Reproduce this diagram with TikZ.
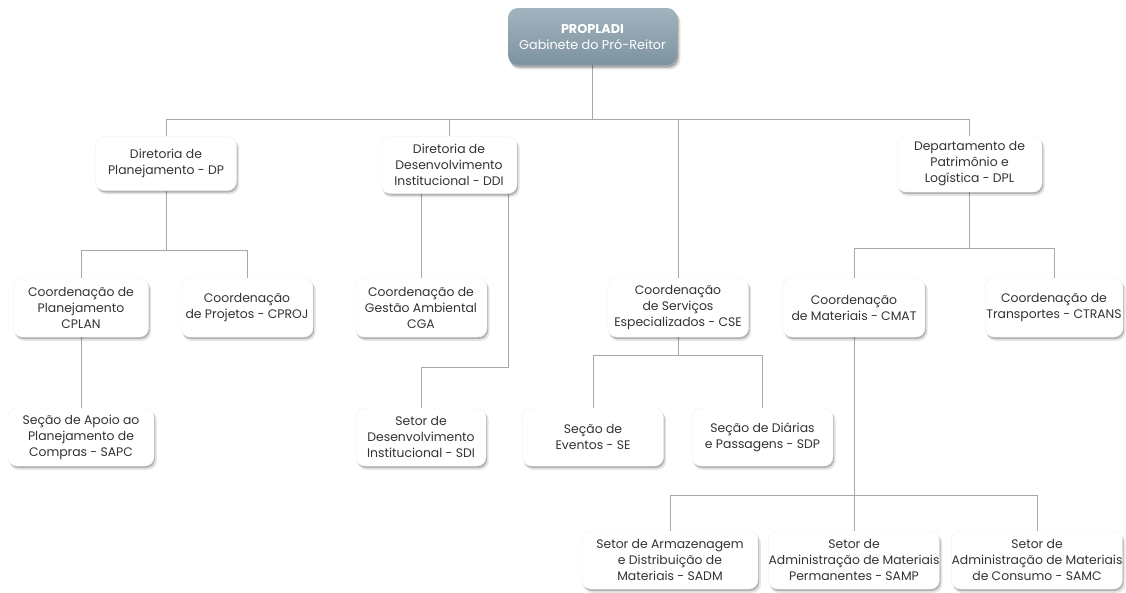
\documentclass[tikz,border=0pt]{standalone}
\usepackage{fontspec}
\setmainfont{Poppins}
\usetikzlibrary{shadows,backgrounds}
\definecolor{linegray}{HTML}{A8A8A8}
\definecolor{txt}{HTML}{333333}
\definecolor{topA}{HTML}{A2B4BF}
\definecolor{topB}{HTML}{7D92A0}
\tikzset{
  box/.style={rectangle, rounded corners=9pt, fill=white, draw=black!6, text=txt,
    align=center, font=\fontsize{12.4}{16}\selectfont, inner sep=0pt,
    general shadow={shadow xshift=2pt, shadow yshift=-3.5pt, shadow scale=1.01, fill=black, opacity=.10},
    drop shadow={shadow xshift=1.2pt, shadow yshift=-2pt, fill=black, opacity=.22}},
  topbox/.style={rectangle, rounded corners=10pt, top color=topA, bottom color=topB,
    draw=none, text=white, align=center, font=\fontsize{12.8}{16}\selectfont, inner sep=0pt,
    general shadow={shadow xshift=2.5pt, shadow yshift=-4pt, shadow scale=1.01, fill=black, opacity=.12},
    drop shadow={shadow xshift=1.5pt, shadow yshift=-2.5pt, fill=black, opacity=.25}},
  conn/.style={draw=linegray, line width=1pt},
}
\begin{document}
\begin{tikzpicture}[x=1pt,y=-1pt]
\useasboundingbox (0,0) rectangle (1126,592);
% nodes
\node[topbox, minimum width=169pt, minimum height=57pt] (PROP) at (592.5,36.5) {{\bfseries PROPLADI}\\Gabinete do Pró-Reitor};
\node[box, minimum width=141pt, minimum height=54pt] (DP) at (166,163.5) {Diretoria de\\Planejamento - DP};
\node[box, minimum width=136pt, minimum height=57pt] (DDI) at (449,165) {Diretoria de\\Desenvolvimento\\Institucional - DDI};
\node[box, minimum width=145pt, minimum height=56pt] (DPL) at (969.5,164) {Departamento de\\Patrimônio e\\Logística - DPL};
\node[box, minimum width=135pt, minimum height=59pt] (CPLAN) at (81,307.5) {Coordenação de\\Planejamento\\CPLAN};
\node[box, minimum width=132pt, minimum height=59pt] (CPROJ) at (247,307.5) {Coordenação\\de Projetos - CPROJ};
\node[box, minimum width=132pt, minimum height=59pt] (CGA) at (421,307.5) {Coordenação de\\Gestão Ambiental\\CGA};
\node[box, minimum width=141pt, minimum height=59pt] (CSE) at (678,307.5) {Coordenação\\de Serviços\\Especializados - CSE};
\node[box, minimum width=142pt, minimum height=59pt] (CMAT) at (854,307.5) {Coordenação\\de Materiais - CMAT};
\node[box, minimum width=138pt, minimum height=59pt] (CTRANS) at (1054,307.5) {Coordenação de\\Transportes - CTRANS};
\node[box, minimum width=146pt, minimum height=58pt] (SAPC) at (81,437) {Seção de Apoio ao\\Planejamento de\\Compras - SAPC};
\node[box, minimum width=130pt, minimum height=58pt] (SDI) at (421,437) {Setor de\\Desenvolvimento\\Institucional - SDI};
\node[box, minimum width=141pt, minimum height=58pt] (SE) at (593,437) {Seção de\\Eventos - SE};
\node[box, minimum width=141pt, minimum height=58pt] (SDP) at (762.5,437) {Seção de Diárias\\e Passagens - SDP};
\node[box, minimum width=176pt, minimum height=58pt] (SADM) at (670,560) {Setor de Armazenagem\\e Distribuição de\\Materiais - SADM};
\node[box, minimum width=168pt, minimum height=58pt] (SAMP) at (854,560) {Setor de\\Administração de Materiais\\Permanentes - SAMP};
\node[box, minimum width=168pt, minimum height=58pt] (SAMC) at (1037,560) {Setor de\\Administração de Materiais\\de Consumo - SAMC};
% connectors
\begin{pgfonlayer}{background}
\coordinate (b1) at (0,119);
\coordinate (b2) at (0,250);
\coordinate (b3) at (0,248);
\coordinate (b4) at (0,355);
\coordinate (b5) at (0,495);
\coordinate (k) at (508,367);
\draw[conn] (PROP.south) -- (PROP.south |- b1);
\draw[conn] (DP.north) -- (DP.north |- b1) -- (DPL.north |- b1) -- (DPL.north);
\draw[conn] (DDI.north) -- (DDI.north |- b1);
\draw[conn] (CSE.north) -- (CSE.north |- b1);
\draw[conn] (DP.south) -- (DP.south |- b2);
\draw[conn] (CPLAN.north) -- (CPLAN.north |- b2) -- (CPROJ.north |- b2) -- (CPROJ.north);
\draw[conn] (CPLAN.south) -- (SAPC.north);
\draw[conn] (CGA.north) -- (CGA.north |- DDI.south);
\draw[conn] (k |- DDI.south) -- (k) -| (SDI.north);
\draw[conn] (DPL.south) -- (DPL.south |- b3);
\draw[conn] (CMAT.north) -- (CMAT.north |- b3) -- (CTRANS.north |- b3) -- (CTRANS.north);
\draw[conn] (CSE.south) -- (CSE.south |- b4);
\draw[conn] (SE.north) -- (SE.north |- b4) -- (SDP.north |- b4) -- (SDP.north);
\draw[conn] (CMAT.south) -- (SAMP.north);
\draw[conn] (SADM.north) -- (SADM.north |- b5) -- (SAMC.north |- b5) -- (SAMC.north);
\end{pgfonlayer}
\end{tikzpicture}
\end{document}
